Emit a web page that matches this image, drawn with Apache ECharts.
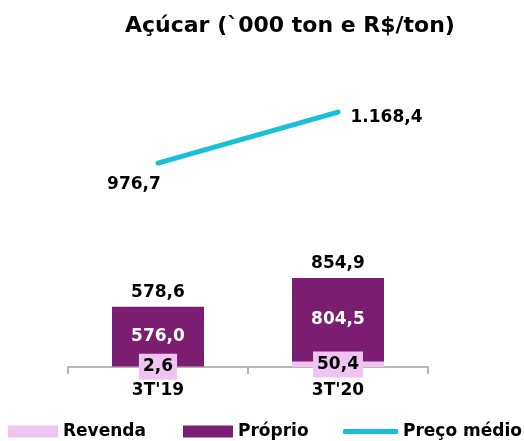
<!DOCTYPE html>
<html>
<head>
<meta charset="utf-8">
<script src="https://cdn.jsdelivr.net/npm/echarts@6/dist/echarts.min.js"></script>
<style>
html,body{margin:0;padding:0;background:#fff;}
#main{width:524px;height:441px;}
</style>
</head>
<body>
<div id="main"></div>
<script>
var categories = ["3T'19", "3T'20"];
var revenda = [2.6, 50.4];
var proprio = [576.0, 804.5];
var totais = [578.6, 854.9];
var precoMedio = [976.7, 1168.4];

var FONT = 'DejaVu Sans';
var legendText = { fontFamily: FONT, fontSize: 17, fontWeight: 'bold', color: '#000' };

function fmt(v) {
    var parts = v.toFixed(1).split('.');
    var inteiro = parts[0].replace(/\B(?=(\d{3})+(?!\d))/g, '.');
    return inteiro + ',' + parts[1];
}

var myChart = echarts.init(document.getElementById('main'));
var option = {
    animation: false,
    title: {
        text: 'Açúcar (`000 ton e R$/ton)',
        left: 125,
        top: 15,
        padding: 0,
        textStyle: { fontFamily: FONT, fontSize: 22, fontWeight: 'bold', color: '#000' }
    },
    legend: [
        { left: 8, top: 423, padding: 0, icon: 'rect', itemWidth: 50, itemHeight: 12, textStyle: legendText, data: ['Revenda'] },
        { left: 183, top: 423, padding: 0, icon: 'rect', itemWidth: 50, itemHeight: 12, textStyle: legendText, data: ['Próprio'] },
        { left: 343, top: 423, padding: 0, icon: 'roundRect', itemWidth: 55, itemHeight: 5, textStyle: legendText, data: ['Preço médio'] }
    ],
    grid: { left: 68, right: 96, top: 60, bottom: 74 },
    xAxis: {
        type: 'category',
        data: categories,
        axisLine: { lineStyle: { color: '#a0a0a0', width: 1.5 } },
        axisTick: { show: true, length: 7, lineStyle: { color: '#a0a0a0', width: 1.5 } },
        axisLabel: { fontFamily: FONT, fontSize: 17, fontWeight: 'bold', color: '#000', margin: 15 }
    },
    yAxis: [
        { type: 'value', min: 0, max: 2950, show: false, splitLine: { show: false } },
        { type: 'value', min: 210, max: 1364, show: false, splitLine: { show: false } }
    ],
    series: [
        {
            name: 'Revenda',
            type: 'bar',
            stack: 'vol',
            barWidth: 92,
            data: revenda,
            itemStyle: { color: '#f0c4f0' },
            z: 3,
            label: {
                show: true,
                position: 'inside',
                fontFamily: FONT, fontSize: 17, fontWeight: 'bold', color: '#000',
                backgroundColor: '#f0c4f0',
                padding: [5, 4, 4, 4],
                formatter: function (p) { return fmt(p.value); }
            }
        },
        {
            name: 'Próprio',
            type: 'bar',
            stack: 'vol',
            data: proprio,
            itemStyle: { color: '#7b1e72' },
            label: {
                show: true,
                position: 'inside',
                fontFamily: FONT, fontSize: 17, fontWeight: 'bold', color: '#fff',
                formatter: function (p) { return fmt(p.value); }
            }
        },
        {
            name: 'Total',
            type: 'bar',
            stack: 'vol',
            data: [0, 0],
            itemStyle: { color: 'transparent' },
            label: {
                show: true,
                position: 'top',
                distance: 6,
                fontFamily: FONT, fontSize: 17, fontWeight: 'bold', color: '#000',
                formatter: function (p) { return fmt(totais[p.dataIndex]); }
            }
        },
        {
            name: 'Preço médio',
            type: 'line',
            yAxisIndex: 1,
            symbol: 'circle',
            symbolSize: 1,
            showSymbol: true,
            lineStyle: { color: '#17bfd9', width: 5, cap: 'round' },
            itemStyle: { color: '#17bfd9' },
            data: [
                { value: precoMedio[0], label: { position: 'bottom', offset: [-24, 8] } },
                { value: precoMedio[1], label: { position: 'right', distance: 12, offset: [0, 6] } }
            ],
            label: {
                show: true,
                fontFamily: FONT, fontSize: 17, fontWeight: 'bold', color: '#000',
                formatter: function (p) { return fmt(p.value); }
            }
        }
    ]
};
myChart.setOption(option);
</script>
</body>
</html>
